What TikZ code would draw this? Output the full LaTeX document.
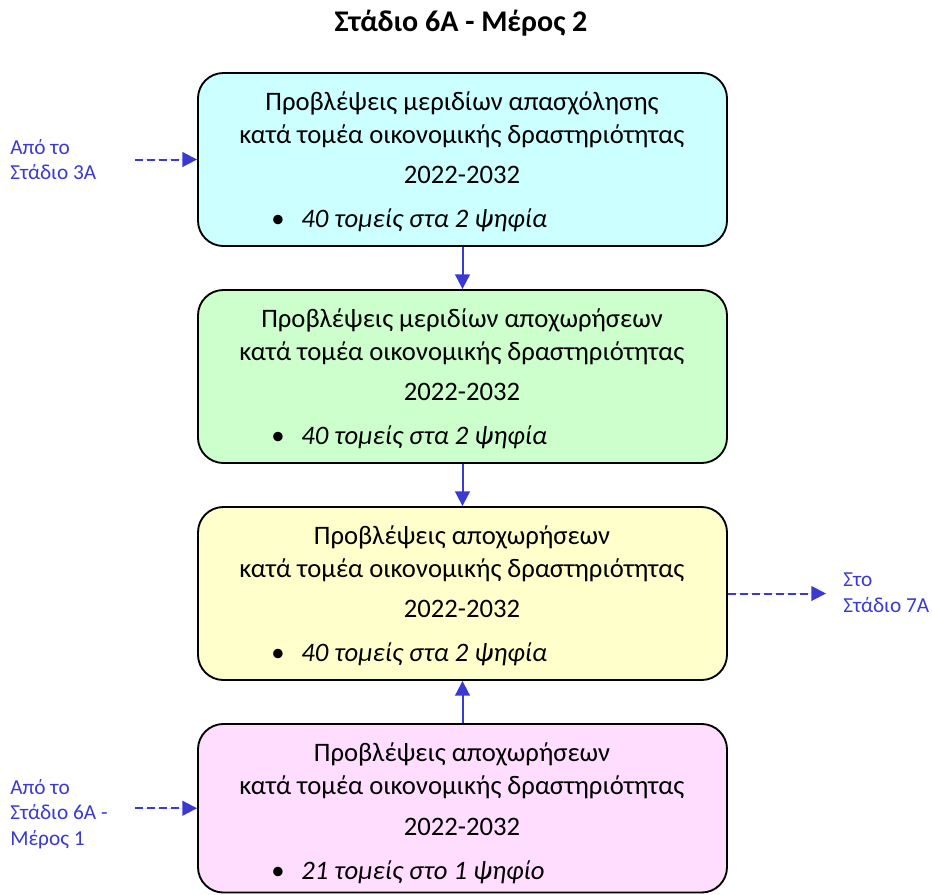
\documentclass[tikz,border=0pt]{standalone}
\usepackage{fontspec}
\setmainfont{Carlito}
\usetikzlibrary{positioning,arrows.meta,calc}
\definecolor{StageCyan}{HTML}{CCFFFF}
\definecolor{StageGreen}{HTML}{CCFFCC}
\definecolor{StageYellow}{HTML}{FFFFCC}
\definecolor{StagePink}{HTML}{FFDDFF}
\definecolor{LinkBlue}{HTML}{3A3AD2}

\begin{document}
\begin{tikzpicture}[
				x=0.75pt, y=-0.75pt,
				stagebox/.style={
					draw=black,
					line width=1.4pt,
					rounded corners=19pt,
					minimum width=396.75pt,
					minimum height=129.75pt,
					inner sep=0pt
				},
				linetext/.style={
					anchor=base,
					inner sep=0pt,
					font=\fontsize{20}{24}\selectfont
				},
				bullettext/.style={
					linetext,
					anchor=base west
				},
				notelabel/.style={
					anchor=north west,
					inner sep=0pt,
					align=left,
					text=LinkBlue,
					font=\fontsize{16}{19.1}\selectfont
				},
				flowarr/.style={
					-{Triangle[length=11pt,width=11pt]},
					draw=LinkBlue,
					fill=LinkBlue,
					line width=1.5pt
				},
				dasharr/.style={
					flowarr,
					dash pattern=on 6pt off 3pt
				}
				]
				
				\useasboundingbox (0,0) rectangle (932,894);
				
				\node[linetext, font=\fontsize{22.5}{27}\selectfont\bfseries] (title) at (461,31) {Στάδιο 6Α - Μέρος 2};
				
				% stage boxes
				\node[stagebox, fill=StageCyan] (s1) at (462.5,159.5) {};
				\node[stagebox, fill=StageGreen] (s2) at (462.5,376.5) {};
				\node[stagebox, fill=StageYellow] (s3) at (462.5,593.5) {};
				\node[stagebox, fill=StagePink, minimum height=126.4pt] (s4) at (462.5,808.25) {};
				
				% box texts
				\node[linetext] (s1a) at (462,110) {Προβλέψεις μεριδίων απασχόλησης};
				\node[linetext] (s1b) at (462,143) {κατά τομέα οικονομικής δραστηριότητας};
				\node[linetext] (s1c) at (462,183) {2022-2032};
				\node[bullettext] (s1d) at (271,227) {\makebox[22.5pt][l]{\textbullet}\textit{40 τομείς στα 2 ψηφία}};
				
				\node[linetext] (s2a) at (462,327) {Προβλέψεις μεριδίων αποχωρήσεων};
				\node[linetext] (s2b) at (462,360) {κατά τομέα οικονομικής δραστηριότητας};
				\node[linetext] (s2c) at (462,400) {2022-2032};
				\node[bullettext] (s2d) at (271,444) {\makebox[22.5pt][l]{\textbullet}\textit{40 τομείς στα 2 ψηφία}};
				
				\node[linetext] (s3a) at (462,544) {Προβλέψεις αποχωρήσεων};
				\node[linetext] (s3b) at (462,577) {κατά τομέα οικονομικής δραστηριότητας};
				\node[linetext] (s3c) at (462,617) {2022-2032};
				\node[bullettext] (s3d) at (271,661) {\makebox[22.5pt][l]{\textbullet}\textit{40 τομείς στα 2 ψηφία}};
				
				\node[linetext] (s4a) at (462,761) {Προβλέψεις αποχωρήσεων};
				\node[linetext] (s4b) at (462,794) {κατά τομέα οικονομικής δραστηριότητας};
				\node[linetext] (s4c) at (462,835) {2022-2032};
				\node[bullettext] (s4d) at (271,879) {\makebox[22.5pt][l]{\textbullet}\textit{21 τομείς στο 1 ψηφίο}};
				
				% side notes
				\node[notelabel] (from3a) at (10,139) {Από το\\Στάδιο 3Α};
				\node[notelabel] (from6a) at (10,779) {Από το\\Στάδιο 6Α -\\Μέρος 1};
				\node[notelabel] (to7a) at (843,573) {Στο\\Στάδιο 7Α};
				
				\coordinate (in3a) at (135,159.5);
				\coordinate (in6a) at (135,808.25);
				\coordinate (out7a) at (826,593.5);
				
				\draw[flowarr] (s1) -- (s2);
				\draw[flowarr] (s2) -- (s3);
				\draw[flowarr] (s4) -- (s3);
				
				\draw[dasharr] (in3a) -- (s1);
				\draw[dasharr] (in6a) -- (s4);
				\draw[dasharr] (s3) -- (out7a);
				
\end{tikzpicture}
\end{document}
